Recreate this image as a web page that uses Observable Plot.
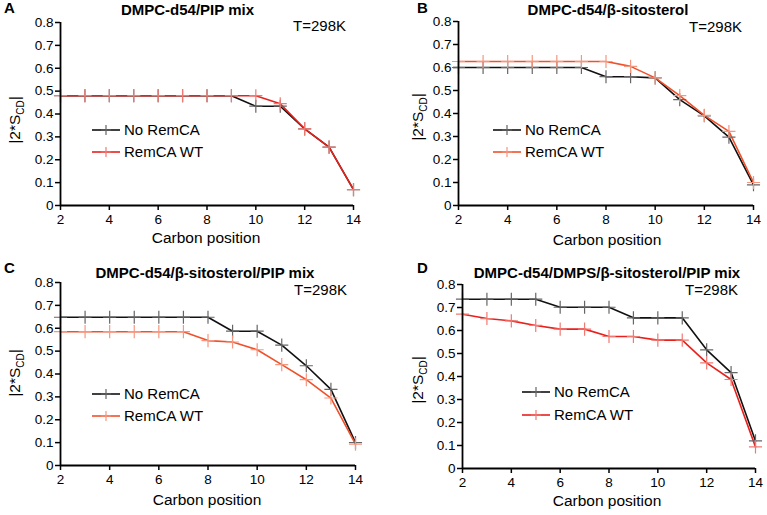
<!DOCTYPE html>
<html>
<head>
<meta charset="utf-8">
<script src="https://cdn.jsdelivr.net/npm/d3@7"></script>
<script src="https://cdn.jsdelivr.net/npm/@observablehq/plot@0.6"></script>
<style>
  html, body { margin: 0; padding: 0; background: #fff; }
  #wrap { position: relative; width: 767px; height: 515px; overflow: hidden; font-family: "Liberation Sans", Arial, sans-serif; }
  .panel { position: absolute; }
  .panel svg { overflow: visible; max-width: none !important; }
</style>
</head>
<body>
<div id="wrap"></div>
<script>
// ---- data ----
const carbons = [2, 3, 4, 5, 6, 7, 8, 9, 10, 11, 12, 13, 14];
const seriesNames = ["No RemCA", "RemCA WT"];
const xTicks = [2, 4, 6, 8, 10, 12, 14];
const yTicks = [0, 0.1, 0.2, 0.3, 0.4, 0.5, 0.6, 0.7, 0.8];
const panelLetters = ["A", "B", "C", "D"];
const panelTitles = ["DMPC-d54/PIP mix", "DMPC-d54/β-sitosterol", "DMPC-d54/β-sitosterol/PIP mix", "DMPC-d54/DMPS/β-sitosterol/PIP mix"];
const tempLabel = "T=298K";
const xLabel = "Carbon position";

const aNoRemCA = [0.48, 0.48, 0.48, 0.48, 0.48, 0.48, 0.48, 0.48, 0.434, 0.434, 0.335, 0.255, 0.069];
const aRemCAWT = [0.48, 0.48, 0.48, 0.48, 0.48, 0.48, 0.48, 0.48, 0.48, 0.445, 0.335, 0.255, 0.069];
const bNoRemCA = [0.60, 0.60, 0.60, 0.60, 0.60, 0.60, 0.56, 0.56, 0.555, 0.46, 0.39, 0.297, 0.09];
const bRemCAWT = [0.626, 0.626, 0.626, 0.626, 0.626, 0.626, 0.626, 0.605, 0.555, 0.478, 0.392, 0.322, 0.10];
const cNoRemCA = [0.648, 0.648, 0.648, 0.648, 0.648, 0.648, 0.648, 0.587, 0.587, 0.526, 0.436, 0.333, 0.10];
const cRemCAWT = [0.585, 0.585, 0.585, 0.585, 0.585, 0.585, 0.546, 0.54, 0.506, 0.441, 0.375, 0.295, 0.093];
const dNoRemCA = [0.736, 0.736, 0.736, 0.736, 0.701, 0.701, 0.701, 0.655, 0.655, 0.655, 0.516, 0.417, 0.12];
const dRemCAWT = [0.671, 0.652, 0.642, 0.622, 0.606, 0.606, 0.574, 0.574, 0.558, 0.558, 0.459, 0.387, 0.094];

const panelSeries = [[aNoRemCA, aRemCAWT], [bNoRemCA, bRemCAWT], [cNoRemCA, cRemCAWT], [dNoRemCA, dRemCAWT]];

// ---- layout (styles / positions) ----
const layouts = [
  {left: 0, top: 0, width: 383, height: 255, ml: 60, mr: 30, mt: 22, mb: 50,
   red: "#e8211d", redMark: "#f07a72",
   letter: [3, 13], title: [187.5, 15], temp: [346, 31], ylab: [20, 120], xlab: [206, 243], legend: [32, 108, 22]},
  {left: 385, top: 0, width: 382, height: 255, ml: 73, mr: 14, mt: 21, mb: 50,
   red: "#f0502a", redMark: "#f5977f",
   letter: [31, 13], title: [223, 15], temp: [357, 32], ylab: [38, 117], xlab: [222, 245], legend: [35, 109, 22]},
  {left: 0, top: 255, width: 383, height: 260, ml: 60, mr: 28, mt: 27, mb: 50,
   red: "#f0502a", redMark: "#f5977f",
   letter: [3, 18], title: [205, 23], temp: [347, 40], ylab: [20, 118], xlab: [207, 250], legend: [32, 112, 22]},
  {left: 385, top: 255, width: 382, height: 260, ml: 77, mr: 12, mt: 29, mb: 47,
   red: "#e8211d", redMark: "#f07a72",
   letter: [31, 18], title: [222, 23], temp: [353, 40], ylab: [38, 125], xlab: [222, 251], legend: [60, 108, 23]}
];

const FONT = "Liberation Sans, Arial, sans-serif";

function makePanel(i) {
  const L = layouts[i];
  const [s1, s2] = panelSeries[i];
  const rows = [];
  carbons.forEach((c, k) => rows.push({carbon: c, value: s1[k], series: seriesNames[0]}));
  carbons.forEach((c, k) => rows.push({carbon: c, value: s2[k], series: seriesNames[1]}));
  const colors = ["#111", L.red];
  const markColors = ["#666", L.redMark];

  const annotations = () => {
    const g = d3.create("svg:g").attr("font-family", FONT).attr("fill", "#000").attr("text-anchor", "start");
    g.append("text").attr("x", L.letter[0] + 1).attr("y", L.letter[1])
      .attr("text-anchor", "start").attr("font-size", 15).attr("font-weight", "bold").text(panelLetters[i]);
    g.append("text").attr("x", L.title[0]).attr("y", L.title[1])
      .attr("text-anchor", "middle").attr("font-size", 15).attr("font-weight", "bold").text(panelTitles[i]);
    g.append("text").attr("x", L.temp[0]).attr("y", L.temp[1])
      .attr("text-anchor", "end").attr("font-size", 15).text(tempLabel);
    g.append("text").attr("x", L.xlab[0]).attr("y", L.xlab[1])
      .attr("text-anchor", "middle").attr("font-size", 15.5).text(xLabel);
    const yl = g.append("text")
      .attr("transform", `translate(${L.ylab[0]},${L.ylab[1]}) rotate(-90)`)
      .attr("text-anchor", "middle").attr("font-size", 15.5);
    yl.append("tspan").text("|2*S");
    yl.append("tspan").attr("font-size", 10).attr("dy", 4).text("CD");
    yl.append("tspan").attr("dy", -4).text("|");
    const lx = L.ml + L.legend[0];
    const ly = L.mt + L.legend[1];
    seriesNames.forEach((name, k) => {
      const y = ly + k * L.legend[2];
      g.append("line").attr("x1", lx).attr("x2", lx + 28).attr("y1", y).attr("y2", y)
        .attr("stroke", colors[k]).attr("stroke-width", 1.6);
      g.append("path").attr("d", `M${lx + 14},${y - 5}V${y + 5}M${lx + 9},${y}H${lx + 19}`)
        .attr("stroke", markColors[k]).attr("stroke-width", 1.2).attr("fill", "none");
      g.append("text").attr("x", lx + 32).attr("y", y).attr("dy", "0.36em")
        .attr("text-anchor", "start").attr("font-size", 15).text(name);
    });
    return g.node();
  };

  const plot = Plot.plot({
    width: L.width,
    height: L.height,
    marginLeft: L.ml,
    marginRight: L.mr,
    marginTop: L.mt,
    marginBottom: L.mb,
    style: {fontFamily: FONT, fontSize: "13px", color: "#000", background: "transparent", overflow: "visible"},
    x: {domain: [2, 14], ticks: xTicks, label: null},
    y: {domain: [0, 0.8], ticks: yTicks, label: null},
    color: {domain: seriesNames, range: colors},
    marks: [
      Plot.axisX({ticks: xTicks, tickSize: 5, tickPadding: 4, strokeWidth: 1.5, fontSize: 13.5, label: null, tickFormat: d => d}),
      Plot.axisY({ticks: yTicks, tickSize: 5, tickPadding: 2, strokeWidth: 1.5, fontSize: 13.5, label: null, tickFormat: d => d === 0 ? "0" : d3.format(".1f")(d)}),
      Plot.line(rows, {x: "carbon", y: "value", z: "series", stroke: "series", strokeWidth: 1.6}),
      Plot.dot(rows, {x: "carbon", y: "value", symbol: "plus", r: 4.3, strokeWidth: 1.2,
        stroke: d => d.series === seriesNames[0] ? markColors[0] : markColors[1]}),
      Plot.ruleX([2], {strokeWidth: 1.8, stroke: "#000"}),
      Plot.ruleY([0], {strokeWidth: 1.8, stroke: "#000"}),
      annotations
    ]
  });
  const div = document.createElement("div");
  div.className = "panel";
  div.style.left = L.left + "px";
  div.style.top = L.top + "px";
  div.appendChild(plot);
  document.getElementById("wrap").appendChild(div);
}

[0, 1, 2, 3].forEach(makePanel);
</script>
</body>
</html>
